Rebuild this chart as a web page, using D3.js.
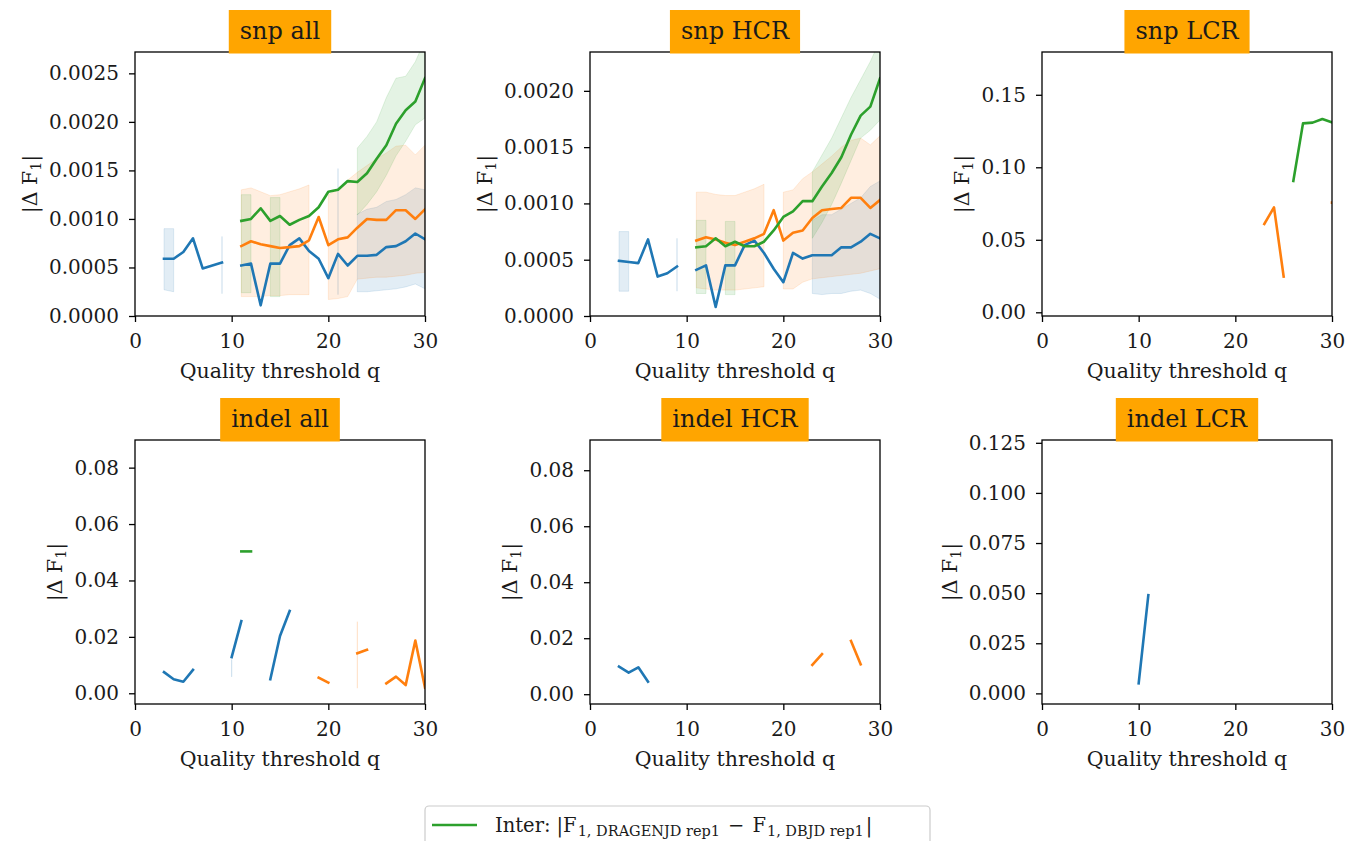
<!DOCTYPE html>
<html><head><meta charset="utf-8">
<script src="https://cdn.jsdelivr.net/npm/d3@7"></script>
<style>
body{margin:0;background:#fff}
svg{display:block}
text{font-family:"DejaVu Serif",serif;fill:#1a1a1a}
</style>
</head><body>
<svg id="c" width="1361" height="841"></svg>
<script>
const _ = null;
// quality thresholds
const q = [1,2,3,4,5,6,7,8,9,10,11,12,13,14,15,16,17,18,19,20,21,22,23,24,25,26,27,28,29,30];
const xTickValues = [0,10,20,30];
const panelTitles = ["snp all","snp HCR","snp LCR","indel all","indel HCR","indel LCR"];
const xLabel = "Quality threshold q";
const legendLabel = ["Inter:","|F","1, DRAGENJD rep1","−","F","1, DBJD rep1","|"];

// ---- snp all ----
const snpAllBlue   = [_,_,0.00059,0.00059,0.00066,0.00080,0.00049,0.00052,0.00055,_,0.00052,0.00054,0.00011,0.00054,0.00054,0.00073,0.00080,0.00067,0.00059,0.00039,0.00064,0.00052,0.00062,0.00062,0.00063,0.00071,0.00072,0.00077,0.00085,0.00079];
const snpAllOrange = [_,_,_,_,_,_,_,_,_,_,0.00072,0.00077,0.00074,0.00072,0.00070,0.00071,0.00072,0.00078,0.00102,0.00073,0.00079,0.00081,0.00091,0.00100,0.00099,0.00099,0.00109,0.00109,0.00100,0.00110];
const snpAllGreen  = [_,_,_,_,_,_,_,_,_,_,0.00098,0.00100,0.00111,0.00098,0.00103,0.00094,0.00099,0.00103,0.00112,0.00128,0.00130,0.00139,0.00138,0.00147,0.00162,0.00176,0.00198,0.00212,0.00221,0.00245];
const snpAllBlueLo   = [_,_,0.00027,0.00025,_,_,_,_,0.00023,_,_,_,_,_,_,_,_,_,_,_,0.00022,_,0.00025,0.00025,0.00026,0.00027,0.00028,0.00030,0.00033,0.00028];
const snpAllBlueHi   = [_,_,0.00090,0.00090,_,_,_,_,0.00082,_,_,_,_,_,_,_,_,_,_,_,0.00152,_,0.00105,0.00110,0.00112,0.00118,0.00120,0.00125,0.00132,0.00130];
const snpAllOrangeLo = [_,_,_,_,_,_,_,_,_,_,0.00020,0.00020,0.00020,0.00021,0.00021,0.00022,0.00022,0.00022,_,0.00017,0.00018,0.00020,0.00038,0.00039,0.00040,0.00040,0.00041,0.00042,0.00044,0.00045];
const snpAllOrangeHi = [_,_,_,_,_,_,_,_,_,_,0.00130,0.00132,0.00128,0.00124,0.00125,0.00128,0.00131,0.00135,_,0.00125,0.00130,0.00140,0.00148,0.00155,0.00162,0.00168,0.00175,0.00176,0.00166,0.00176];
const snpAllGreenLo  = [_,_,_,_,_,_,_,_,_,_,0.00024,0.00024,_,0.00020,0.00020,_,_,_,_,_,_,_,0.00104,0.00115,0.00128,0.00145,0.00165,0.00180,0.00197,0.00204];
const snpAllGreenHi  = [_,_,_,_,_,_,_,_,_,_,0.00125,0.00125,_,0.00122,0.00122,_,_,_,_,_,_,_,0.00173,0.00185,0.00200,0.00225,0.00245,0.00247,0.00262,0.00285];

// ---- snp HCR ----
const snpHcrBlue   = [_,_,0.00049,0.00048,0.00047,0.00068,0.00035,0.00038,0.00044,_,0.00041,0.00045,0.00008,0.00045,0.00045,0.00063,0.00067,0.00056,0.00042,0.00030,0.00056,0.00051,0.00054,0.00054,0.00054,0.00061,0.00061,0.00066,0.00073,0.00069];
const snpHcrOrange = [_,_,_,_,_,_,_,_,_,_,0.00067,0.00070,0.00068,0.00065,0.00063,0.00066,0.00069,0.00073,0.00094,0.00067,0.00074,0.00076,0.00087,0.00094,0.00095,0.00096,0.00105,0.00105,0.00096,0.00103];
const snpHcrGreen  = [_,_,_,_,_,_,_,_,_,_,0.00061,0.00062,0.00069,0.00062,0.00066,0.00062,0.00062,0.00066,0.00076,0.00088,0.00093,0.00102,0.00102,0.00115,0.00127,0.00141,0.00161,0.00178,0.00186,0.00211];
const snpHcrBlueLo   = [_,_,0.00022,0.00022,_,_,_,_,0.00022,_,_,_,_,_,_,_,_,_,_,_,_,_,0.00020,0.00019,0.00020,0.00020,0.00022,0.00023,0.00020,0.00015];
const snpHcrBlueHi   = [_,_,0.00075,0.00075,_,_,_,_,0.00069,_,_,_,_,_,_,_,_,_,_,_,_,_,0.00085,0.00090,0.00090,0.00095,0.00100,0.00105,0.00115,0.00120];
const snpHcrOrangeLo = [_,_,_,_,_,_,_,_,_,_,0.00025,0.00024,0.00023,0.00023,0.00023,0.00024,0.00025,0.00026,_,0.00024,0.00024,0.00030,0.00033,0.00034,0.00035,0.00036,0.00037,0.00038,0.00040,0.00042];
const snpHcrOrangeHi = [_,_,_,_,_,_,_,_,_,_,0.00110,0.00110,0.00108,0.00107,0.00107,0.00110,0.00113,0.00117,_,0.00110,0.00112,0.00122,0.00128,0.00135,0.00142,0.00150,0.00156,0.00158,0.00152,0.00160];
const snpHcrGreenLo  = [_,_,_,_,_,_,_,_,_,_,0.00020,0.00020,_,0.00019,0.00019,_,_,_,_,_,_,_,0.00069,0.00083,0.00099,0.00118,0.00138,0.00158,0.00165,0.00174];
const snpHcrGreenHi  = [_,_,_,_,_,_,_,_,_,_,0.00085,0.00085,_,0.00084,0.00084,_,_,_,_,_,_,_,0.00128,0.00143,0.00158,0.00176,0.00194,0.00210,0.00226,0.00245];

// ---- snp LCR ----
const snpLcrOrange = [_,_,_,_,_,_,_,_,_,_,_,_,_,_,_,_,_,_,_,_,_,_,0.0609,0.0724,0.0246,_,_,_,_,0.0756];
const snpLcrGreen  = [_,_,_,_,_,_,_,_,_,_,_,_,_,_,_,_,_,_,_,_,_,_,_,_,_,0.0906,0.1303,0.1308,0.1333,0.1310];

// ---- indel all ----
const indelAllBlue   = [_,_,0.0075,0.0050,0.0041,0.0083,_,_,_,0.0128,0.0256,_,_,0.0050,0.0203,0.0292,_,_,_,_,_,_,_,_,_,_,_,_,_,_];
const indelAllOrange = [_,_,_,_,_,_,_,_,_,_,_,_,_,_,_,_,_,_,0.0055,0.0038,_,_,0.0142,0.0154,_,0.0035,0.0059,0.0029,0.0187,0.0020];
const indelAllGreen  = [_,_,_,_,_,_,_,_,_,_,0.0503,0.0503,_,_,_,_,_,_,_,_,_,_,_,_,_,_,_,_,_,_];
const indelAllBlueLo   = [_,_,_,_,_,_,_,_,_,0.0058,_,_,_,_,_,_,_,_,_,_,_,_,_,_,_,_,_,_,_,_];
const indelAllBlueHi   = [_,_,_,_,_,_,_,_,_,0.0120,_,_,_,_,_,_,_,_,_,_,_,_,_,_,_,_,_,_,_,_];
const indelAllOrangeLo = [_,_,_,_,_,_,_,_,_,_,_,_,_,_,_,_,_,_,_,_,_,_,0.0018,_,_,_,_,_,_,_];
const indelAllOrangeHi = [_,_,_,_,_,_,_,_,_,_,_,_,_,_,_,_,_,_,_,_,_,_,0.0254,_,_,_,_,_,_,_];

// ---- indel HCR ----
const indelHcrBlue   = [_,_,0.0099,0.0077,0.0096,0.0045,_,_,_,_,_,_,_,_,_,_,_,_,_,_,_,_,_,_,_,_,_,_,_,_];
const indelHcrOrange = [_,_,_,_,_,_,_,_,_,_,_,_,_,_,_,_,_,_,_,_,_,_,0.0105,0.0143,_,_,0.0190,0.0107,_,_];

// ---- indel LCR ----
const indelLcrBlue = [_,_,_,_,_,_,_,_,_,0.0050,0.0490,_,_,_,_,_,_,_,_,_,_,_,_,_,_,_,_,_,_,_];

// y axis limits and ticks
const yLimits = [[0,0.00272],[0,0.002345],[-0.00255,0.1795],[-0.0038,0.0898],[-0.0035,0.0908],[-0.0053,0.1264]];
const yTickValues = [
  [0,0.0005,0.0010,0.0015,0.0020,0.0025],
  [0,0.0005,0.0010,0.0015,0.0020],
  [0,0.05,0.10,0.15],
  [0,0.02,0.04,0.06,0.08],
  [0,0.02,0.04,0.06,0.08],
  [0,0.025,0.05,0.075,0.10,0.125]
];
const yTickFormats = [".4f",".4f",".2f",".2f",".2f",".3f"];

const C = {blue:"#1f77b4", orange:"#ff7f0e", green:"#2ca02c"};
const panelSeries = [
  [{c:C.blue,v:snpAllBlue,lo:snpAllBlueLo,hi:snpAllBlueHi},{c:C.orange,v:snpAllOrange,lo:snpAllOrangeLo,hi:snpAllOrangeHi},{c:C.green,v:snpAllGreen,lo:snpAllGreenLo,hi:snpAllGreenHi}],
  [{c:C.blue,v:snpHcrBlue,lo:snpHcrBlueLo,hi:snpHcrBlueHi},{c:C.orange,v:snpHcrOrange,lo:snpHcrOrangeLo,hi:snpHcrOrangeHi},{c:C.green,v:snpHcrGreen,lo:snpHcrGreenLo,hi:snpHcrGreenHi}],
  [{c:C.orange,v:snpLcrOrange},{c:C.green,v:snpLcrGreen}],
  [{c:C.blue,v:indelAllBlue,lo:indelAllBlueLo,hi:indelAllBlueHi},{c:C.orange,v:indelAllOrange,lo:indelAllOrangeLo,hi:indelAllOrangeHi},{c:C.green,v:indelAllGreen}],
  [{c:C.blue,v:indelHcrBlue},{c:C.orange,v:indelHcrOrange}],
  [{c:C.blue,v:indelLcrBlue}]
];

// ---- layout ----
const colL = [135,590,1042], rowT = [52,440], W = 290, H = 264;
const TICK_FS = 20, LABEL_FS = 20.5, TITLE_FS = 24;
const BAND_ALPHA = 0.13;
const svg = d3.select("#c");

panelTitles.forEach((title,i)=>{
  const x0 = colL[i%3], y0 = rowT[Math.floor(i/3)];
  const g = svg.append("g").attr("transform",`translate(${x0},${y0})`);
  const x = d3.scaleLinear().domain([0,30]).range([0,W]);
  const y = d3.scaleLinear().domain(yLimits[i]).range([H,0]);

  const cid = "clip"+i;
  g.append("clipPath").attr("id",cid).append("rect").attr("width",W).attr("height",H);
  const plot = g.append("g").attr("clip-path",`url(#${cid})`);

  // bands
  panelSeries[i].forEach(s=>{
    if(!s.lo) return;
    const area = d3.area()
      .defined((d,k)=>s.lo[k]!=null && s.hi[k]!=null)
      .x(d=>x(d)).y0((d,k)=>y(s.lo[k])).y1((d,k)=>y(s.hi[k]));
    plot.append("path").attr("d",area(q))
      .attr("fill",s.c).attr("fill-opacity",BAND_ALPHA)
      .attr("stroke",s.c).attr("stroke-opacity",BAND_ALPHA).attr("stroke-width",1);
  });
  // lines
  panelSeries[i].forEach(s=>{
    const line = d3.line().defined((d,k)=>s.v[k]!=null).x(d=>x(d)).y((d,k)=>y(s.v[k]));
    plot.append("path").attr("d",line(q)).attr("fill","none")
      .attr("stroke",s.c).attr("stroke-width",2.6)
      .attr("stroke-linecap","square").attr("stroke-linejoin","round");
  });

  // axes
  const xa = g.append("g").attr("transform",`translate(0,${H})`)
    .call(d3.axisBottom(x).tickValues(xTickValues).tickFormat(d3.format("d")).tickSize(6).tickSizeOuter(0).tickPadding(12));
  const ya = g.append("g")
    .call(d3.axisLeft(y).tickValues(yTickValues[i]).tickFormat(d3.format(yTickFormats[i])).tickSize(6).tickSizeOuter(0).tickPadding(10));
  [xa,ya].forEach(a=>{
    a.select(".domain").remove();
    a.selectAll("line").attr("stroke","#000").attr("stroke-width",1.3);
    a.selectAll("text").attr("font-size",TICK_FS).attr("font-family","DejaVu Serif").attr("fill","#1a1a1a");
  });
  // frame
  g.append("rect").attr("width",W).attr("height",H).attr("fill","none").attr("stroke","#000").attr("stroke-width",1.3);

  // x label
  g.append("text").attr("x",W/2).attr("y",H+62).attr("text-anchor","middle")
    .attr("font-size",LABEL_FS).text(xLabel);
  // y label
  const bb = ya.node().getBBox();
  const yl = g.append("text").attr("transform",`translate(${bb.x-12},${H/2}) rotate(-90)`)
    .attr("text-anchor","middle").attr("font-size",LABEL_FS);
  yl.append("tspan").text("|Δ F");
  yl.append("tspan").attr("font-size",LABEL_FS*0.7).attr("dy",4).text("1");
  yl.append("tspan").attr("dy",-4).text("|");

  // title box
  const tg = g.append("g");
  const rect = tg.append("rect");
  const tt = tg.append("text").attr("x",W/2).attr("y",-13).attr("text-anchor","middle")
    .attr("font-size",TITLE_FS).text(title);
  const tw = tt.node().getComputedTextLength();
  rect.attr("x",W/2-tw/2-11).attr("y",-42).attr("width",tw+22).attr("height",43.5).attr("fill","#FFA500");
});

// legend (only the top part is inside the picture)
const lg = svg.append("g");
lg.append("rect").attr("x",425).attr("y",806).attr("width",505).attr("height",80).attr("rx",4)
  .attr("fill","#fff").attr("stroke","#cccccc").attr("stroke-width",1.2);
lg.append("line").attr("x1",432).attr("x2",477).attr("y1",825).attr("y2",825)
  .attr("stroke",C.green).attr("stroke-width",2.6);
const lt = lg.append("text").attr("x",495).attr("y",832).attr("font-size",19.5);
lt.append("tspan").text(legendLabel[0]);
lt.append("tspan").attr("dx",6).text(legendLabel[1]);
lt.append("tspan").attr("font-size",14.5).attr("dy",4).attr("dx",1).text(legendLabel[2]);
lt.append("tspan").attr("dy",-4).attr("dx",8).text(legendLabel[3]);
lt.append("tspan").attr("dx",8).text(legendLabel[4]);
lt.append("tspan").attr("font-size",14.5).attr("dy",4).attr("dx",1).text(legendLabel[5]);
lt.append("tspan").attr("dy",-4).attr("dx",2).text(legendLabel[6]);
</script>
</body></html>
